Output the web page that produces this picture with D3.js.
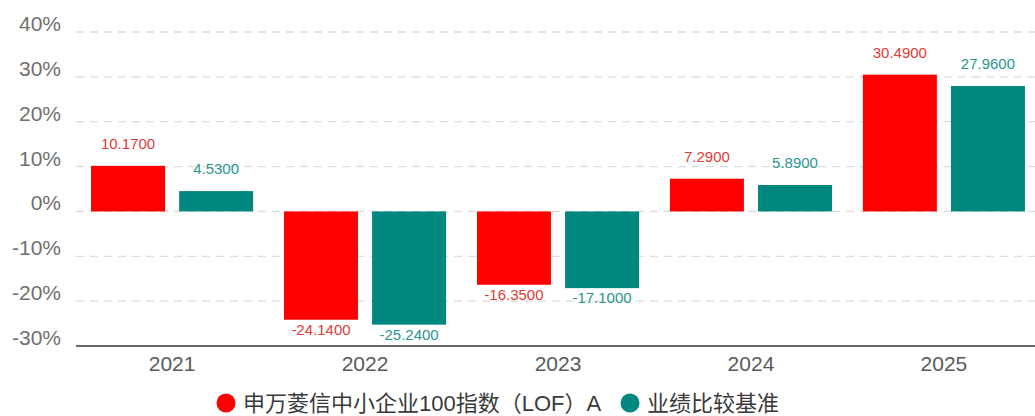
<!DOCTYPE html>
<html lang="zh">
<head>
<meta charset="UTF-8">
<title>Chart</title>
<script src="https://cdn.jsdelivr.net/npm/d3@7"></script>
<style>
    body { margin: 0; background: #fff; }
    text { font-family: 'Liberation Sans', 'Noto Sans CJK SC', sans-serif; }
</style>
</head>
<body>
<script>
    const width = 1035;
    const height = 416;

    const years = ['2021', '2022', '2023', '2024', '2025'];
    const seriesNames = ['申万菱信中小企业100指数（LOF）A', '业绩比较基准'];
    const fundValues = [10.17, -24.14, -16.35, 7.29, 30.49];
    const benchValues = [4.53, -25.24, -17.10, 5.89, 27.96];
    const yTicks = [-30, -20, -10, 0, 10, 20, 30, 40];
    const colors = ['#ff0000', '#00877f'];
    const labelColors = ['#e23a36', '#2a968f'];

    const rows = years.map((y, i) => ({year: y, vals: [fundValues[i], benchValues[i]]}));

    const svg = d3.select('body').append('svg')
        .attr('width', width).attr('height', height);

    const x = d3.scaleBand().domain(years).range([76, 1040]).paddingInner(0.16).paddingOuter(0.078);
    const xs = d3.scaleBand().domain([0, 1]).range([0, x.bandwidth()]).paddingInner(0.16);
    const y = d3.scaleLinear().domain([-30, 40]).range([346, 32]);

    // grid
    svg.append('g').selectAll('line')
        .data(yTicks.filter(t => t !== -30))
        .join('line')
        .attr('x1', 76).attr('x2', width)
        .attr('y1', d => y(d)).attr('y2', d => y(d))
        .attr('stroke', '#dcdcdc').attr('stroke-width', 1.3)
        .attr('stroke-dasharray', '8,6');

    // y labels - baseline sits on the grid line
    svg.append('g').selectAll('text')
        .data(yTicks)
        .join('text')
        .attr('x', 61).attr('y', d => y(d) - 1)
        .attr('text-anchor', 'end')
        .attr('font-size', 21)
        .attr('fill', '#707070')
        .text(d => d + '%');

    // bars
    const g = svg.append('g').selectAll('g')
        .data(rows).join('g')
        .attr('transform', d => `translate(${x(d.year)},0)`);

    g.selectAll('rect')
        .data(d => d.vals.map((v, i) => ({v, i})))
        .join('rect')
        .attr('x', d => xs(d.i))
        .attr('width', xs.bandwidth())
        .attr('y', d => y(Math.max(0, d.v)))
        .attr('height', d => Math.abs(y(d.v) - y(0)))
        .attr('fill', d => colors[d.i]);

    g.selectAll('text')
        .data(d => d.vals.map((v, i) => ({v, i})))
        .join('text')
        .attr('x', d => xs(d.i) + xs.bandwidth() / 2)
        .attr('y', d => d.v >= 0 ? y(d.v) - 17 : y(d.v) + 15)
        .attr('text-anchor', 'middle')
        .attr('font-size', 15)
        .attr('fill', d => labelColors[d.i])
        .text(d => d.v.toFixed(4));

    // axis line
    svg.append('line')
        .attr('x1', 76).attr('x2', width)
        .attr('y1', 346).attr('y2', 346)
        .attr('stroke', '#666').attr('stroke-width', 2);

    svg.append('g').selectAll('text')
        .data(years).join('text')
        .attr('x', d => x(d) + x.bandwidth() / 2)
        .attr('y', 371)
        .attr('text-anchor', 'middle')
        .attr('font-size', 21)
        .attr('fill', '#5a5a5a')
        .text(d => d);

    // legend
    const legX = [226, 630];
    const leg = svg.append('g').selectAll('g')
        .data(seriesNames).join('g')
        .attr('transform', (d, i) => `translate(${legX[i]},403)`);
    leg.append('circle').attr('r', 9.5).attr('fill', (d, i) => colors[i]);
    leg.append('text')
        .attr('x', 17).attr('dy', '0.36em')
        .attr('font-size', 22)
        .attr('fill', '#3a3a3a')
        .text(d => d);
</script>
</body>
</html>
